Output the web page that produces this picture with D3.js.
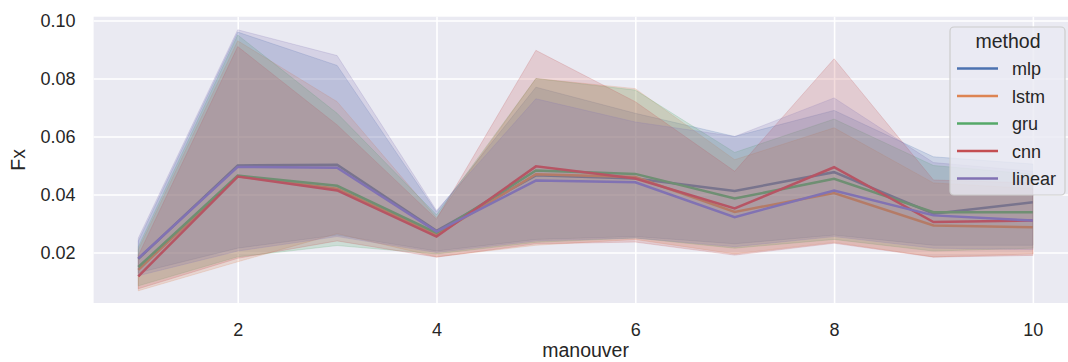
<!DOCTYPE html>
<html>
<head>
<meta charset="utf-8">
<script src="https://cdn.jsdelivr.net/npm/d3@7"></script>
<style>
  body { margin: 0; background: #fff; }
  text { font-family: "Liberation Sans", Arial, sans-serif; fill: #262626; }
</style>
</head>
<body>
<div id="chart-area"></div>
<script>
// data
const manouver = [1, 2, 3, 4, 5, 6, 7, 8, 9, 10]
const methods = ["mlp", "lstm", "gru", "cnn", "linear"]
const colors = ["#4C72B0", "#DD8452", "#55A868", "#C44E52", "#8172B3"]
const xTicks = [2, 4, 6, 8, 10]
const yTicks = [0.02, 0.04, 0.06, 0.08, 0.10]

const mlpMean  = [0.0178, 0.0500, 0.0503, 0.0275, 0.0466, 0.0455, 0.0412, 0.0477, 0.0334, 0.0373]
const mlpHigh  = [0.0240, 0.0960, 0.0845, 0.0340, 0.0770, 0.0680, 0.0600, 0.0690, 0.0530, 0.0505]
const mlpLow   = [0.0130, 0.0215, 0.0260, 0.0205, 0.0245, 0.0255, 0.0230, 0.0260, 0.0225, 0.0225]

const lstmMean = [0.0140, 0.0463, 0.0420, 0.0262, 0.0470, 0.0460, 0.0340, 0.0405, 0.0293, 0.0287]
const lstmHigh = [0.0210, 0.0930, 0.0720, 0.0320, 0.0800, 0.0765, 0.0520, 0.0630, 0.0440, 0.0420]
const lstmLow  = [0.0068, 0.0168, 0.0265, 0.0185, 0.0225, 0.0245, 0.0195, 0.0235, 0.0185, 0.0195]

const gruMean  = [0.0150, 0.0465, 0.0430, 0.0268, 0.0483, 0.0471, 0.0386, 0.0454, 0.0339, 0.0339]
const gruHigh  = [0.0220, 0.0950, 0.0680, 0.0330, 0.0800, 0.0760, 0.0545, 0.0660, 0.0500, 0.0470]
const gruLow   = [0.0085, 0.0185, 0.0224, 0.0195, 0.0235, 0.0250, 0.0215, 0.0245, 0.0205, 0.0215]

const cnnMean  = [0.0118, 0.0462, 0.0414, 0.0255, 0.0497, 0.0455, 0.0352, 0.0494, 0.0305, 0.0310]
const cnnHigh  = [0.0190, 0.0910, 0.0640, 0.0315, 0.0897, 0.0720, 0.0480, 0.0868, 0.0450, 0.0440]
const cnnLow   = [0.0075, 0.0180, 0.0240, 0.0184, 0.0230, 0.0236, 0.0191, 0.0232, 0.0184, 0.0190]

const linMean  = [0.0180, 0.0495, 0.0492, 0.0272, 0.0448, 0.0442, 0.0322, 0.0414, 0.0328, 0.0310]
const linHigh  = [0.0250, 0.0968, 0.0879, 0.0345, 0.0730, 0.0650, 0.0600, 0.0733, 0.0510, 0.0480]
const linLow   = [0.0120, 0.0205, 0.0255, 0.0200, 0.0240, 0.0250, 0.0220, 0.0255, 0.0215, 0.0210]

const means = [mlpMean, lstmMean, gruMean, cnnMean, linMean]
const highs = [mlpHigh, lstmHigh, gruHigh, cnnHigh, linHigh]
const lows  = [mlpLow, lstmLow, gruLow, cnnLow, linLow]

// plot area (right side runs past the picture edge, like the original crop)
const PLOT = { LEFT: 93.6, RIGHT: 1077.6, TOP: 16.7, BOTTOM: 303 }

const svg = d3.select("#chart-area").append("svg")
  .attr("width", 1068)
  .attr("height", 362)

const xScale = d3.scaleLinear()
  .domain([0.55, 10.45])
  .range([PLOT.LEFT, PLOT.RIGHT])
const yScale = d3.scaleLinear()
  .domain([0.10 + (20.5 - PLOT.TOP) / 2900, 0.02 - (PLOT.BOTTOM - 252.5) / 2900])
  .range([PLOT.TOP, PLOT.BOTTOM])

svg.append("rect")
  .attr("x", PLOT.LEFT)
  .attr("y", PLOT.TOP)
  .attr("width", PLOT.RIGHT - PLOT.LEFT)
  .attr("height", PLOT.BOTTOM - PLOT.TOP)
  .attr("fill", "#EAEAF2")

// grid
svg.append("g")
  .attr("transform", `translate(0, ${PLOT.BOTTOM})`)
  .call(d3.axisBottom(xScale).tickValues(xTicks).tickSize(-(PLOT.BOTTOM - PLOT.TOP)).tickFormat(""))
  .call(g => g.select(".domain").remove())
  .call(g => g.selectAll("line").attr("stroke", "#fff").attr("stroke-width", 1.6))
svg.append("g")
  .attr("transform", `translate(${PLOT.LEFT}, 0)`)
  .call(d3.axisLeft(yScale).tickValues(yTicks).tickSize(-(PLOT.RIGHT - PLOT.LEFT)).tickFormat(""))
  .call(g => g.select(".domain").remove())
  .call(g => g.selectAll("line").attr("stroke", "#fff").attr("stroke-width", 1.6))

// tick labels
svg.append("g")
  .attr("transform", `translate(0, ${PLOT.BOTTOM})`)
  .call(d3.axisBottom(xScale).tickValues(xTicks).tickSize(0).tickPadding(20).tickFormat(d3.format("d")))
  .call(g => g.select(".domain").remove())
  .call(g => g.selectAll("text").attr("font-size", "18px").attr("font-family", null).attr("fill", "#262626"))
svg.append("g")
  .attr("transform", `translate(${PLOT.LEFT}, 0)`)
  .call(d3.axisLeft(yScale).tickValues(yTicks).tickSize(0).tickPadding(18).tickFormat(d3.format(".2f")))
  .call(g => g.select(".domain").remove())
  .call(g => g.selectAll("text").attr("font-size", "18px").attr("font-family", null).attr("fill", "#262626"))

svg.append("text")
  .attr("x", (PLOT.LEFT + PLOT.RIGHT) / 2)
  .attr("y", 357)
  .attr("font-size", "19.5px")
  .attr("text-anchor", "middle")
  .text("manouver")
svg.append("text")
  .attr("x", -(PLOT.TOP + PLOT.BOTTOM) / 2)
  .attr("y", 25)
  .attr("font-size", "19.5px")
  .attr("text-anchor", "middle")
  .attr("transform", "rotate(-90)")
  .text("Fx")

const line = d3.line()
  .x((d, i) => xScale(manouver[i]))
  .y(d => yScale(d))
const band = d3.area()
  .x((d, i) => xScale(manouver[i]))
  .y0(d => yScale(d[0]))
  .y1(d => yScale(d[1]))

// line first, then its band on top, as seaborn does per hue
methods.forEach((m, k) => {
  svg.append("path")
    .datum(means[k])
    .attr("fill", "none")
    .attr("stroke", colors[k])
    .attr("stroke-width", 2.5)
    .attr("d", line)
  svg.append("path")
    .datum(lows[k].map((lo, i) => [lo, highs[k][i]]))
    .attr("fill", colors[k])
    .attr("fill-opacity", 0.2)
    .attr("stroke", colors[k])
    .attr("stroke-opacity", 0.2)
    .attr("stroke-width", 1)
    .attr("d", band)
})

// legend
const legend = svg.append("g")
legend.append("rect")
  .attr("x", 950)
  .attr("y", 27)
  .attr("width", 115)
  .attr("height", 168)
  .attr("rx", 4)
  .attr("fill", "#EAEAF2")
  .attr("fill-opacity", 0.8)
  .attr("stroke", "#cccccc")
  .attr("stroke-width", 1.2)
legend.append("text")
  .attr("x", 1008)
  .attr("y", 48)
  .attr("font-size", "19.5px")
  .attr("text-anchor", "middle")
  .text("method")
methods.forEach((m, k) => {
  const y = 68.5 + k * 27.5
  legend.append("line")
    .attr("x1", 957).attr("x2", 998)
    .attr("y1", y).attr("y2", y)
    .attr("stroke", colors[k])
    .attr("stroke-width", 2.5)
  legend.append("text")
    .attr("x", 1012)
    .attr("y", y + 6.5)
    .attr("font-size", "18px")
    .text(m)
})
</script>
</body>
</html>
